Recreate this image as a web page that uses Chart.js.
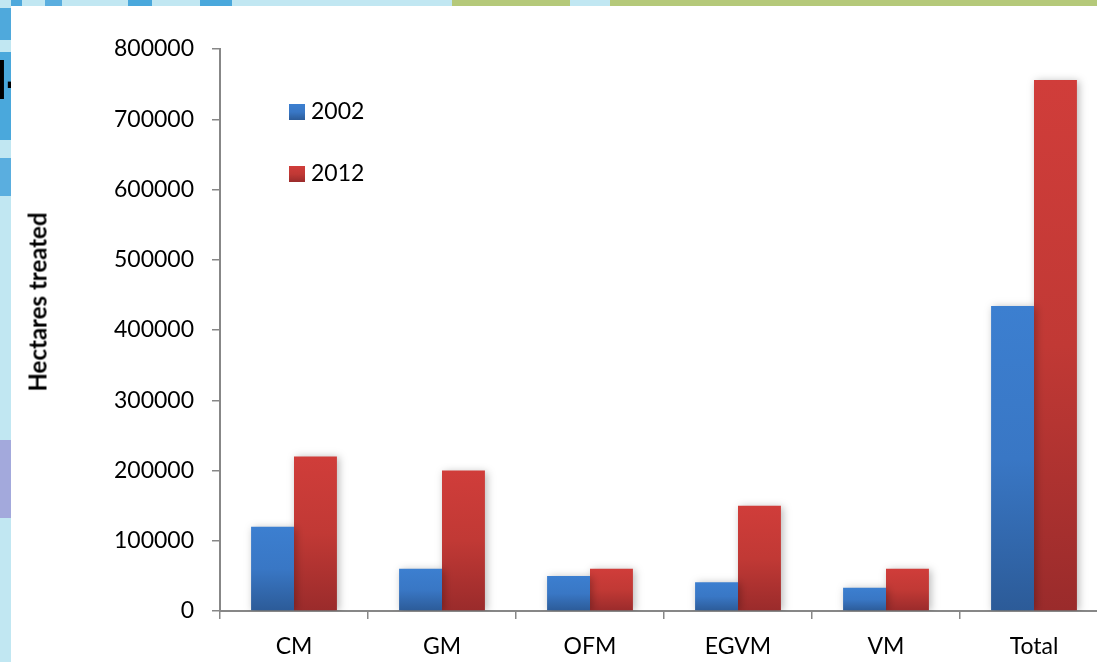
<!DOCTYPE html>
<html>
<head>
<meta charset="utf-8">
<script src="https://cdn.jsdelivr.net/npm/chart.js@4.4.1/dist/chart.umd.min.js"></script>
<style>
  html, body { margin: 0; padding: 0; width: 1097px; height: 662px; overflow: hidden; background: #c1e7f2; }
  #topband { position: absolute; left: 0; top: 0; width: 1097px; height: 6px;
    background: linear-gradient(90deg, #4fa9dc 0 22px, #c1e7f2 22px 45px, #5aaedf 45px 62px, #c1e7f2 62px 128px,
      #4aa8dc 128px 152px, #c1e7f2 152px 200px, #4aa8dc 200px 232px, #c1e7f2 232px 452px, #b5c97a 452px 570px,
      #c1e7f2 570px 610px, #b5c97a 610px 1097px); }
  #leftband { position: absolute; left: 0; top: 0; width: 11px; height: 662px;
    background: linear-gradient(180deg, #c1e7f2 0 8px, #4fa9dc 8px 40px, #c1e7f2 40px 52px, #4aa8dc 52px 140px,
      #c1e7f2 140px 158px, #5aaedf 158px 196px, #c1e7f2 196px 440px, #a3a9dc 440px 518px, #c1e7f2 518px 662px); }
  #cut { position: absolute; left: -7px; top: 50px; font: bold 53px "Liberation Sans", sans-serif;
    color: #000; letter-spacing: -2px; line-height: 62px; }
  #panel { position: absolute; left: 11px; top: 6px; width: 1086px; height: 656px; background: #fff; }
  #wrap { position: absolute; left: 0; top: 0; width: 1112px; height: 662px; }
  #ytitle { position: absolute; left: 37px; top: 302px; transform: translate(-50%, -50%) rotate(-90deg);
    font: bold 24px Lato, sans-serif; color: #000; white-space: nowrap; }
  .key { position: absolute; left: 289px; font: 23px Lato, sans-serif; color: #000; line-height: 24px; }
  .key i { display: inline-block; width: 16px; height: 16px; margin-right: 6px; vertical-align: -1px; }
</style>
</head>
<body>
<div id="topband"></div>
<div id="leftband"></div>
<div id="cut">l-</div>
<div id="panel"></div>
<div id="wrap"><canvas id="chart"></canvas></div>
<div id="ytitle">Hectares treated</div>
<div id="legend"></div>
<script>
// Categories, series and axis ticks
const categories = ['CM', 'GM', 'OFM', 'EGVM', 'VM', 'Total'];
const seriesNames = ['2002', '2012'];
const values2002 = [120000, 60000, 50000, 41000, 33000, 434000];
const values2012 = [220000, 200000, 60000, 150000, 60000, 756000];
const yTicks = [0, 100000, 200000, 300000, 400000, 500000, 600000, 700000, 800000];

// Vertical shading for each series (top -> bottom)
const blueStops = [[0, '#3c7fd0'], [0.5, '#3977c5'], [1, '#2c5b98']];
const redStops = [[0, '#d03d3a'], [0.5, '#c13935'], [1, '#9a2b2b']];

function barFill(stops) {
  return function (ctx) {
    const chart = ctx.chart;
    const y = chart.scales && chart.scales.y;
    if (ctx.type !== 'data' || !chart.chartArea || !y) return stops[0][1];
    const top = y.getPixelForValue(ctx.raw);
    const base = y.getPixelForValue(0);
    if (!isFinite(top) || !isFinite(base) || top === base) return stops[0][1];
    const g = chart.ctx.createLinearGradient(0, top, 0, base);
    stops.forEach(([o, c]) => g.addColorStop(o, c));
    return g;
  };
}

// Soft drop shadow behind the bars
const barShadow = {
  id: 'barShadow',
  beforeDatasetsDraw(chart) {
    const c = chart.ctx;
    c.save();
    c.shadowColor = 'rgba(0,0,0,0.28)';
    c.shadowBlur = 8;
    c.shadowOffsetX = 2;
    c.shadowOffsetY = 1;
  },
  afterDatasetsDraw(chart) { chart.ctx.restore(); }
};

const axisGrey = '#878787';
const font = { family: 'Lato', size: 23 };

new Chart(document.getElementById('chart'), {
  type: 'bar',
  data: {
    labels: categories,
    datasets: [
      { label: seriesNames[0], data: values2002, backgroundColor: barFill(blueStops), borderWidth: 0 },
      { label: seriesNames[1], data: values2012, backgroundColor: barFill(redStops), borderWidth: 0 }
    ]
  },
  options: {
    responsive: true,
    maintainAspectRatio: false,
    animation: false,
    layout: { padding: { top: 49, right: 4, bottom: 0, left: 0 } },
    datasets: { bar: { categoryPercentage: 0.58, barPercentage: 1.0 } },
    plugins: { legend: { display: false }, tooltip: { enabled: false } },
    scales: {
      x: {
        grid: { display: true, drawOnChartArea: false, drawTicks: true, tickLength: 8, color: axisGrey, lineWidth: 1.5, offset: true },
        border: { display: true, color: axisGrey, width: 2 },
        ticks: { font: font, color: '#000', padding: 14, maxRotation: 0 },
        afterFit(scale) { scale.height = 51; }
      },
      y: {
        min: 0,
        max: 800000,
        afterBuildTicks(scale) { scale.ticks = yTicks.map(v => ({ value: v })); },
        grid: { display: true, drawOnChartArea: false, drawTicks: true, tickLength: 8, color: axisGrey, lineWidth: 1.5 },
        border: { display: true, color: axisGrey, width: 2 },
        ticks: { font: font, color: '#000', padding: 18, callback: v => String(v) },
        afterFit(scale) { scale.width = 220; }
      }
    }
  },
  plugins: [barShadow]
});

// Legend entries
const legend = document.getElementById('legend');
const swatches = [blueStops, redStops];
const keyTops = [98, 160];
seriesNames.forEach((name, i) => {
  const row = document.createElement('div');
  row.className = 'key';
  row.style.top = keyTops[i] + 'px';
  const sw = document.createElement('i');
  sw.style.background = 'linear-gradient(180deg,' + swatches[i].map(s => s[1] + ' ' + (s[0] * 100) + '%').join(',') + ')';
  row.appendChild(sw);
  row.appendChild(document.createTextNode(name));
  legend.appendChild(row);
});
</script>
</body>
</html>
